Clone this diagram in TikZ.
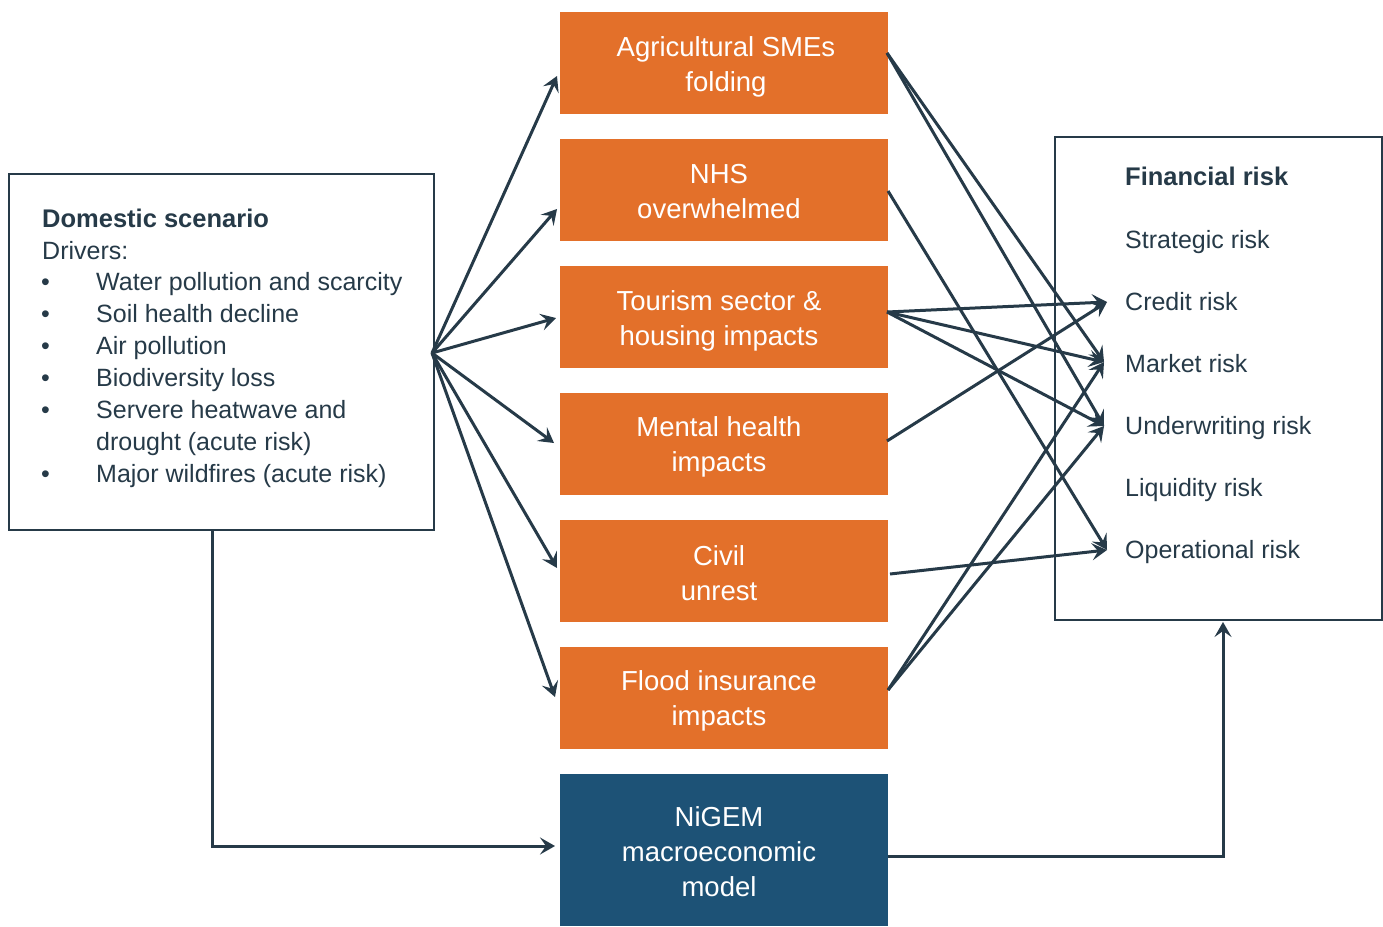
\documentclass[tikz,border=0pt]{standalone}
\usepackage{fontspec}
\setmainfont{Liberation Sans}
\usetikzlibrary{arrows.meta}
\definecolor{ink}{HTML}{263A48}
\definecolor{orng}{HTML}{E3702A}
\definecolor{nblue}{HTML}{1D5276}
\begin{document}
\begin{tikzpicture}[x=1pt,y=-1pt,
  conn/.style={draw=ink, line width=3pt, -{Stealth[length=15pt,width=17pt,inset=6pt]}},
  boxtext/.style={text=white, align=center, inner sep=0pt, font=\fontsize{27.5}{35}\selectfont},
  obox/.style={fill=orng, minimum width=328pt, minimum height=102pt, inner sep=0pt},
  bbox/.style={obox, fill=nblue, minimum height=152pt},
  frame/.style={draw=ink, line width=2.8pt, fill=none, inner sep=0pt},
  txt/.style={anchor=base west, inner sep=0pt, text=ink, font=\fontsize{25}{30}\selectfont},
  head/.style={txt, font=\fontsize{25.5}{30}\selectfont\bfseries}
]
\useasboundingbox (0,0) rectangle (1383,926);
\fill[white] (0,0) rectangle (1383,926);

% frames
\node[frame, minimum width=425pt, minimum height=356pt] (dom) at (221.5,352) {};
\node[frame, minimum width=327pt, minimum height=483pt] (fin) at (1218.5,378.5) {};

% left box text
\node[head] (domh) at (42,227) {Domestic scenario};
\node[txt] (drv) at (42,259) {Drivers:};
\foreach \y/\t [count=\i] in {290/Water pollution and scarcity,322/Soil health decline,354/Air pollution,386/Biodiversity loss,418/Servere heatwave and,482/Major wildfires (acute risk)}{
  \node[txt] (bul\i) at (41,\y) {•};
  \node[txt] (item\i) at (96,\y) {\t};
}
\node[txt] (item5b) at (96,450) {drought (acute risk)};

% right box text
\node[head] (finh) at (1125,185) {Financial risk};
\node[txt] (strat) at (1125,248) {Strategic risk};
\node[txt] (credit) at (1125,310) {Credit risk};
\node[txt] (market) at (1125,372) {Market risk};
\node[txt] (under) at (1125,434) {Underwriting risk};
\node[txt] (liq) at (1125,496) {Liquidity risk};
\node[txt] (oper) at (1125,558) {Operational risk};

% middle boxes
\node[obox, label={[boxtext, xshift=2pt, yshift=-4pt]center:{Agricultural SMEs\\folding}}] (a1) at (724,63) {};
\node[obox, label={[boxtext, xshift=-5pt, yshift=-2pt]center:{NHS\\overwhelmed}}] (a2) at (724,190) {};
\node[obox, label={[boxtext, xshift=-5pt, yshift=-4pt]center:{Tourism sector \&\\housing impacts}}] (a3) at (724,317) {};
\node[obox, label={[boxtext, xshift=-5pt, yshift=-3pt]center:{Mental health\\impacts}}] (a4) at (724,444) {};
\node[obox, label={[boxtext, xshift=-5pt, yshift=-2pt]center:{Civil\\unrest}}] (a5) at (724,571) {};
\node[obox, label={[boxtext, xshift=-5pt, yshift=-3pt]center:{Flood insurance\\impacts}}] (a6) at (724,698) {};
\node[bbox, label={[boxtext, xshift=-5pt, yshift=-2pt]center:{NiGEM\\macroeconomic\\model}}] (nigem) at (724,850) {};

% coordinates
\coordinate (fan) at (432,353);
\coordinate (in1) at (557,76);
\coordinate (in2) at (557,209);
\coordinate (in3) at (556,318);
\coordinate (in4) at (554,443);
\coordinate (in5) at (557,568);
\coordinate (in6) at (555,697);
\coordinate (o1) at (887,53);
\coordinate (o2) at (888,191);
\coordinate (o3) at (887,312);
\coordinate (o4) at (887,441);
\coordinate (o5) at (890,574);
\coordinate (o6) at (888,690);
\coordinate (tcred) at (1107,302);
\coordinate (tmark) at (1104,362);
\coordinate (tund) at (1104,426);
\coordinate (toper) at (1107,550);
\coordinate (domout) at (212,530);
\coordinate (nigin) at (555,846);
\coordinate (nigout) at (888,856);
\coordinate (finin) at (1223,622);

% fan arrows
\foreach \i in {1,...,6}{\draw[conn] (fan) -- (in\i);}

% right connectors
\draw[conn] (o1) -- (tmark);
\draw[conn] (o1) -- (tund);
\draw[conn] (o2) -- (toper);
\draw[conn] (o3) -- (tcred);
\draw[conn] (o3) -- (tmark);
\draw[conn] (o3) -- (tund);
\draw[conn] (o4) -- (tcred);
\draw[conn] (o5) -- (toper);
\draw[conn] (o6) -- (tmark);
\draw[conn] (o6) -- (tund);

% elbows
\draw[conn] (domout) |- (nigin);
\draw[conn] (nigout) -| (finin);
\end{tikzpicture}
\end{document}
